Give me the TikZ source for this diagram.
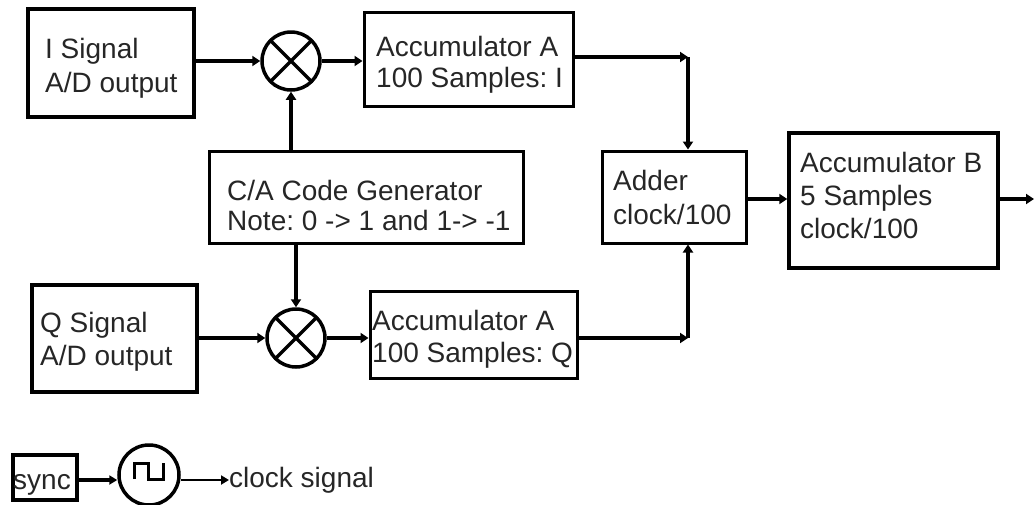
\documentclass[tikz,border=0pt]{standalone}
\usepackage{fontspec}
\setmainfont{Liberation Sans}
\frenchspacing
\usetikzlibrary{arrows.meta,calc}
\tikzset{
  thickbox/.style={draw, line width=4.5pt, rectangle, inner sep=0pt},
  thinbox/.style={draw, line width=3pt, rectangle, inner sep=0pt},
  txt/.style={inner sep=0pt, anchor=north west, align=left, text=black!85, font=\fontsize{28}{#1}\selectfont},
  txt/.default=33,
  mixer/.style={draw, circle, line width=3.5pt, inner sep=0pt, minimum size=58pt},
  conn/.style={line width=4pt, -{Triangle[length=8pt,width=10pt]}},
  thinconn/.style={line width=3pt, -{Triangle[length=8pt,width=9pt]}},
}
\begin{document}
\begin{tikzpicture}[x=1pt,y=-1pt]
\useasboundingbox (0,0) rectangle (1034,504);
% boxes
\node[thickbox, minimum width=166pt, minimum height=108pt] (isig) at (111,63) {};
\node[txt=34] (isigt) at (45,38) {I Signal\\A/D output};
\node[thickbox, minimum width=165pt, minimum height=107pt] (qsig) at (114.5,338.5) {};
\node[txt=33] (qsigt) at (40,312) {Q Signal\\A/D output};
\node[thinbox, minimum width=209pt, minimum height=94pt] (accI) at (468.5,59) {};
\node[txt=31] (accIt) at (376,36) {Accumulator A\\100 Samples: I};
\node[thinbox, minimum width=207pt, minimum height=87pt] (accQ) at (473.5,334.5) {};
\node[txt=32] (accQt) at (372,310) {Accumulator A\\100 Samples: Q};
\node[thinbox, minimum width=314pt, minimum height=92pt] (ca) at (366,197) {};
\node[txt=30] (cat) at (227,180) {C/A Code Generator\\Note: 0 -> 1 and 1-> -1};
\node[thinbox, minimum width=144pt, minimum height=92pt] (adder) at (674,197) {};
\node[txt=34] (addert) at (613,170) {Adder\\clock/100};
\node[thinbox, line width=3.5pt, minimum width=209pt, minimum height=135pt] (accB) at (893.5,200.5) {};
\node[txt=33] (accBt) at (800,152) {Accumulator B\\5 Samples\\clock/100};
\node[thickbox, minimum width=64pt, minimum height=45pt] (sync) at (45,477.5) {};
\node[inner sep=0pt, anchor=base west, text=black!85, font=\fontsize{28}{31}\selectfont] (synct) at (13,489) {sync};
% mixers
\node[mixer] (mixI) at (291,61) {};
\draw[line width=3.5pt] ($(mixI)+(-20.5,-20.5)$) -- ($(mixI)+(20.5,20.5)$) ($(mixI)+(-20.5,20.5)$) -- ($(mixI)+(20.5,-20.5)$);
\node[mixer] (mixQ) at (296,338) {};
\draw[line width=3.5pt] ($(mixQ)+(-20.5,-20.5)$) -- ($(mixQ)+(20.5,20.5)$) ($(mixQ)+(-20.5,20.5)$) -- ($(mixQ)+(20.5,-20.5)$);
% clock
\node[mixer, minimum size=60pt] (clk) at (149,475) {};
\draw[line width=3pt] (134,479) -- (134,463) -- (148,463) -- (148,479) -- (163,479) -- (163,463);
\node[inner sep=0pt, anchor=base west, text=black!85, font=\fontsize{28}{31}\selectfont] (clksig) at (229,487) {clock signal};
% coordinates
\coordinate (cI) at (688,57);
\coordinate (cQ) at (688,338);
\coordinate (out) at (1034,199);
% connectors
\draw[conn] (isig.east |- mixI.west) -- (mixI.west);
\draw[conn] (mixI.east) -- (mixI.east -| accI.west);
\draw[conn] (mixI.south |- ca.north) -- (mixI.south);
\draw[conn] (mixQ.north |- ca.south) -- (mixQ.north);
\draw[conn] (qsig.east |- mixQ.west) -- (mixQ.west);
\draw[conn] (mixQ.east) -- (mixQ.east -| accQ.west);
\draw[conn] (accI.east |- cI) -- (cI);
\draw[conn] (cI) -- (cI |- adder.north);
\draw[conn] (accQ.east |- cQ) -- (cQ);
\draw[conn] (cQ) -- (cQ |- adder.south);
\draw[conn] (adder.east |- out) -- (accB.west |- out);
\draw[conn] (accB.east |- out) -- (out);
\draw[thinconn, line width=3.5pt] (sync.east |- 0,480) -- (clk.west |- 0,480);
\draw[thinconn, line width=2pt] (clk.east |- 0,480) -- (clksig.west |- 0,480);
\end{tikzpicture}
\end{document}
